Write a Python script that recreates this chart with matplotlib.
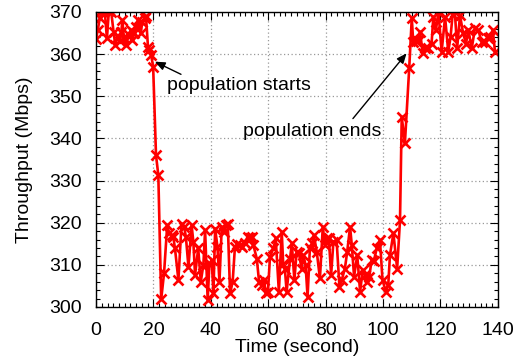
import matplotlib
matplotlib.use("Agg")
import matplotlib.pyplot as plt
from matplotlib.ticker import MultipleLocator

plt.rcParams["font.family"] = ["Liberation Sans", "DejaVu Sans"]

# throughput samples (time in seconds, Mbps)
time_s = [
    0, 0.6, 1.3, 2.1, 3.0, 3.8, 4.5, 5.3, 6.1, 6.7, 7.6, 8.4, 8.8, 9.2, 9.7,
    10.5, 11.4, 12.1, 12.5, 13.4, 14.0, 14.6, 15.6, 16.1, 16.9, 17.4, 18.1,
    18.6, 19.2, 19.9,
    20.9, 21.7, 22.7, 23.7,
    24.8, 25.5, 26.4, 26.9, 27.5, 28.7, 29.8, 30.7, 31.3, 32.2, 33.3, 33.9,
    34.5, 35.6, 36.5, 37.4, 38.0, 38.9, 39.5, 40.3, 40.9, 41.5, 42.3, 43.0,
    43.8, 44.6, 45.3, 45.9, 46.7, 47.6, 48.4, 49.2,
    50.2, 51.0, 51.9, 52.8, 53.6, 54.2, 54.8, 56.0, 56.8, 57.7, 58.6, 59.1,
    59.9, 60.6, 61.8, 62.6, 63.7, 64.7, 65.2, 65.8, 66.4, 67.6, 68.2, 69.1,
    69.9, 70.7, 71.6, 72.2, 73.0, 73.7, 74.5, 75.3, 75.9, 76.9, 78.0, 79.0,
    79.8, 80.4, 81.1, 81.9, 82.7, 83.8, 84.8, 85.6, 86.7, 87.5, 88.5, 89.1,
    89.9, 91.0, 92.0, 92.9, 93.7, 94.5, 95.2, 96.0, 96.8, 97.8, 98.9, 99.8,
    101.0, 101.8, 102.4, 103.6, 104.9, 105.9,
    106.5, 107.6, 109.1,
    110.0, 110.5, 111.5, 112.2, 112.9, 113.8, 114.7, 115.8, 116.9, 117.5,
    118.4, 119.3, 120.4, 121.6, 122.7, 123.5, 124.2, 125.0, 125.8, 126.8,
    127.9, 128.9, 129.7, 130.9, 132.0, 133.2, 134.3, 135.5, 136.6, 137.4,
    138.2, 139.0,
]
throughput = [
    363.5, 365.7, 368.5, 370.5, 370.5, 363.7, 370.5, 370.0, 365.3, 362.2,
    364.1, 363.0, 365.3, 368.0, 363.7, 362.2, 364.5, 365.7, 363.3, 364.9,
    366.5, 368.0, 364.9, 367.7, 368.5, 369.0, 361.7, 361.0, 359.8, 357.0,
    336.0, 331.3, 301.8, 308.0,
    319.4, 317.5, 317.0, 316.7, 313.9, 306.4, 319.8, 319.0, 316.7, 309.5,
    319.4, 315.5, 307.6, 313.9, 306.0, 310.0, 318.2, 301.6, 310.3, 311.1,
    303.2, 318.6, 314.3, 306.0, 319.0, 317.8, 319.4, 319.8, 303.2, 306.0,
    314.3, 314.9,
    314.7, 314.3, 315.1, 316.7, 316.3, 316.7, 314.7, 311.5, 306.0, 305.2,
    306.4, 303.2, 303.6, 311.9, 313.9, 316.3, 303.6, 317.8, 310.3, 309.0,
    303.6, 311.5, 315.1, 306.4, 313.1, 312.7, 309.1, 312.3, 310.0, 302.4,
    313.9, 315.1, 317.0, 313.1, 306.8, 319.0, 314.7, 316.3, 316.3, 307.6,
    315.5, 315.9, 304.8, 306.4, 309.1, 313.1, 319.0, 314.7, 307.2, 312.3,
    303.6, 308.7, 307.6, 306.0, 307.2, 311.1, 311.0, 313.9, 315.9, 306.4,
    303.6, 305.2, 312.3, 317.5, 309.1, 320.6,
    345.1, 338.8, 356.6,
    368.5, 362.9, 363.2, 363.0, 365.3, 360.2, 361.5, 361.4, 362.5, 368.8,
    365.7, 370.0, 360.6, 368.8, 360.6, 364.0, 369.2, 370.0, 361.4, 369.2,
    364.9, 362.5, 365.7, 361.4, 366.1, 365.7, 362.9, 362.9, 363.7, 364.0,
    365.7, 360.6,
]

fs = 14

fig = plt.figure(figsize=(5.23, 3.62), dpi=100)
ax = fig.add_axes([0.1836, 0.152, 0.7684, 0.815])

ax.plot(time_s, throughput, color="#ff0000", lw=1.9, marker="x",
        markersize=6.5, markeredgewidth=1.9)

ax.set_xlim(0, 140)
ax.set_ylim(300, 370)
ax.xaxis.set_major_locator(MultipleLocator(20))
ax.xaxis.set_minor_locator(MultipleLocator(2))
ax.yaxis.set_major_locator(MultipleLocator(10))
ax.yaxis.set_minor_locator(MultipleLocator(2))
ax.tick_params(which="both", direction="in", top=True, right=True,
               labelsize=fs, width=0.8, colors="black")
ax.tick_params(which="major", length=6)
ax.tick_params(which="minor", length=3)
ax.tick_params(axis="x", which="major", pad=11)
ax.tick_params(axis="y", which="major", pad=10)
ax.grid(True, which="major", color="#999999", linestyle=(0, (1, 2)), lw=0.9)
for s in ax.spines.values():
    s.set_linewidth(1.0)

ax.set_xlabel("Time (second)", fontsize=fs, labelpad=0)
ax.set_ylabel("Throughput (Mbps)", fontsize=fs, labelpad=12)

arrow = dict(arrowstyle="-|>,head_length=0.6,head_width=0.25", color="black",
             lw=1.0, shrinkA=0, shrinkB=0)
ax.annotate("", xy=(20.5, 358.2), xytext=(29.6, 355.2), arrowprops=arrow)
ax.text(24.7, 352.6, "population starts", fontsize=fs, va="center", ha="left")
ax.annotate("", xy=(108.2, 360.2), xytext=(89.5, 344.7), arrowprops=arrow)
ax.text(75.2, 341.7, "population ends", fontsize=fs, va="center", ha="center")

fig.savefig("out.png", dpi=100)
